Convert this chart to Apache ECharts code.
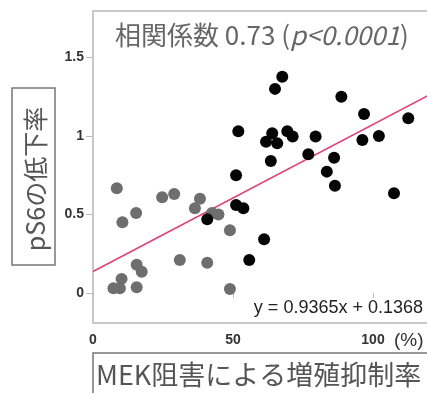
<!DOCTYPE html>
<html><head><meta charset="utf-8">
<script src="https://cdn.jsdelivr.net/npm/echarts@6/dist/echarts.min.js"></script>
<style>html,body{margin:0;padding:0;background:#fff;overflow:hidden}#c{width:427px;height:393px}</style>
</head><body><div id="c"></div>
<script>
// MEK inhibition (%) vs pS6 decrease
const grayPoints = [
  [8.5,0.667],[24.7,0.61],[29,0.63],[38.2,0.60],[36.4,0.54],[15.4,0.51],[10.5,0.45],
  [31,0.21],[15.6,0.18],[17.4,0.136],[10.2,0.09],[7.3,0.03],[9.6,0.03],[15.6,0.036],
  [42.5,0.51],[44.8,0.50],[48.9,0.40],[40.8,0.193],[48.9,0.025]
];
const blackPoints = [
  [40.8,0.47],[51.1,0.75],[51.9,1.03],[51.1,0.56],[53.7,0.54],[55.8,0.21],[61.1,0.342],
  [61.8,0.964],[64,1.017],[65.8,0.953],[63.5,0.84],[65,1.30],[67.6,1.378],[69.4,1.03],
  [71.3,0.996],[76.9,0.883],[79.5,0.996],[83.5,0.773],[86.1,0.862],[86.4,0.683],
  [88.7,1.25],[96.8,1.14],[96.2,0.975],[102.1,1.0],[107.5,0.635],[112.6,1.113]
];
const yTicks = [0, 0.5, 1, 1.5];
const xTicks = [0, 50, 100];
const slope = 0.9365, intercept = 0.1368;
const xMax = 125;
const regLine = [[0, intercept], [xMax, slope * xMax / 100 + intercept]];

const chart = echarts.init(document.getElementById('c'));
chart.setOption({
  animation: false,
  grid: { left: 93, top: 11, width: 350, height: 312, outerBoundsMode: 'none', containLabel: false, show: true, borderColor: '#c8c8c8', borderWidth: 2, backgroundColor: 'transparent' },
  xAxis: {
    type: 'value', min: 0, max: xMax,
    axisLine: { show: false }, splitLine: { show: false },
    axisTick: { show: true, customValues: xTicks, length: 5, lineStyle: { color: '#bbb' } },
    axisLabel: { customValues: xTicks, margin: 10, fontFamily: 'Liberation Sans', fontSize: 14, fontWeight: 'bold', color: '#333' }
  },
  yAxis: {
    type: 'value', min: -0.191, max: 1.796,
    axisLine: { show: false }, splitLine: { show: false },
    axisTick: { show: true, customValues: yTicks, length: 7, lineStyle: { color: '#bbb' } },
    axisLabel: { customValues: yTicks, margin: 9, fontFamily: 'Liberation Sans', fontSize: 14, fontWeight: 'bold', color: '#333' }
  },
  series: [
    { type: 'line', data: regLine, symbol: 'none', lineStyle: { color: '#e0407a', width: 1.6 }, z: 1 },
    { type: 'scatter', data: grayPoints, symbolSize: 12, itemStyle: { color: '#6e6e6e', opacity: 1 }, z: 2 },
    { type: 'scatter', data: blackPoints, symbolSize: 12, itemStyle: { color: '#050505', opacity: 1 }, z: 3 }
  ],
  graphic: [
    { type: 'text', left: 115, top: 22, style: {
        text: '{a|相関係数 0.73 (}{b|p<0.0001}{a|)}',
        rich: {
          a: { fontFamily: 'Noto Sans CJK JP', fontSize: 26, fill: '#666' },
          b: { fontFamily: 'Noto Sans CJK JP', fontSize: 26, fontStyle: 'italic', fill: '#666' }
        } } },
    { type: 'text', x: 423, y: 308, style: { text: 'y = 0.9365x + 0.1368', fontFamily: 'Liberation Sans', fontSize: 18, fill: '#222', align: 'right', verticalAlign: 'middle' } },
    { type: 'text', x: 394, y: 341, style: { text: '(%)', fontFamily: 'Liberation Sans', fontSize: 19, fill: '#333', align: 'left', verticalAlign: 'middle' } },
    { type: 'rect', shape: { x: 12, y: 88, width: 43, height: 177 }, style: { fill: 'none', stroke: '#777', lineWidth: 1.5 } },
    { type: 'text', x: 35, y: 179, rotation: Math.PI / 2, style: { text: 'pS6の低下率', fontFamily: 'Noto Sans CJK JP', fontSize: 25, fill: '#555', align: 'center', verticalAlign: 'middle' } },
    { type: 'rect', shape: { x: 93, y: 353, width: 360, height: 60 }, style: { fill: 'none', stroke: '#777', lineWidth: 1.5 } },
    { type: 'text', x: 96, y: 375, style: { text: 'MEK阻害による増殖抑制率', fontFamily: 'Noto Sans CJK JP', fontSize: 27, fill: '#555', align: 'left', verticalAlign: 'middle' } }
  ]
});
</script>
</body></html>
